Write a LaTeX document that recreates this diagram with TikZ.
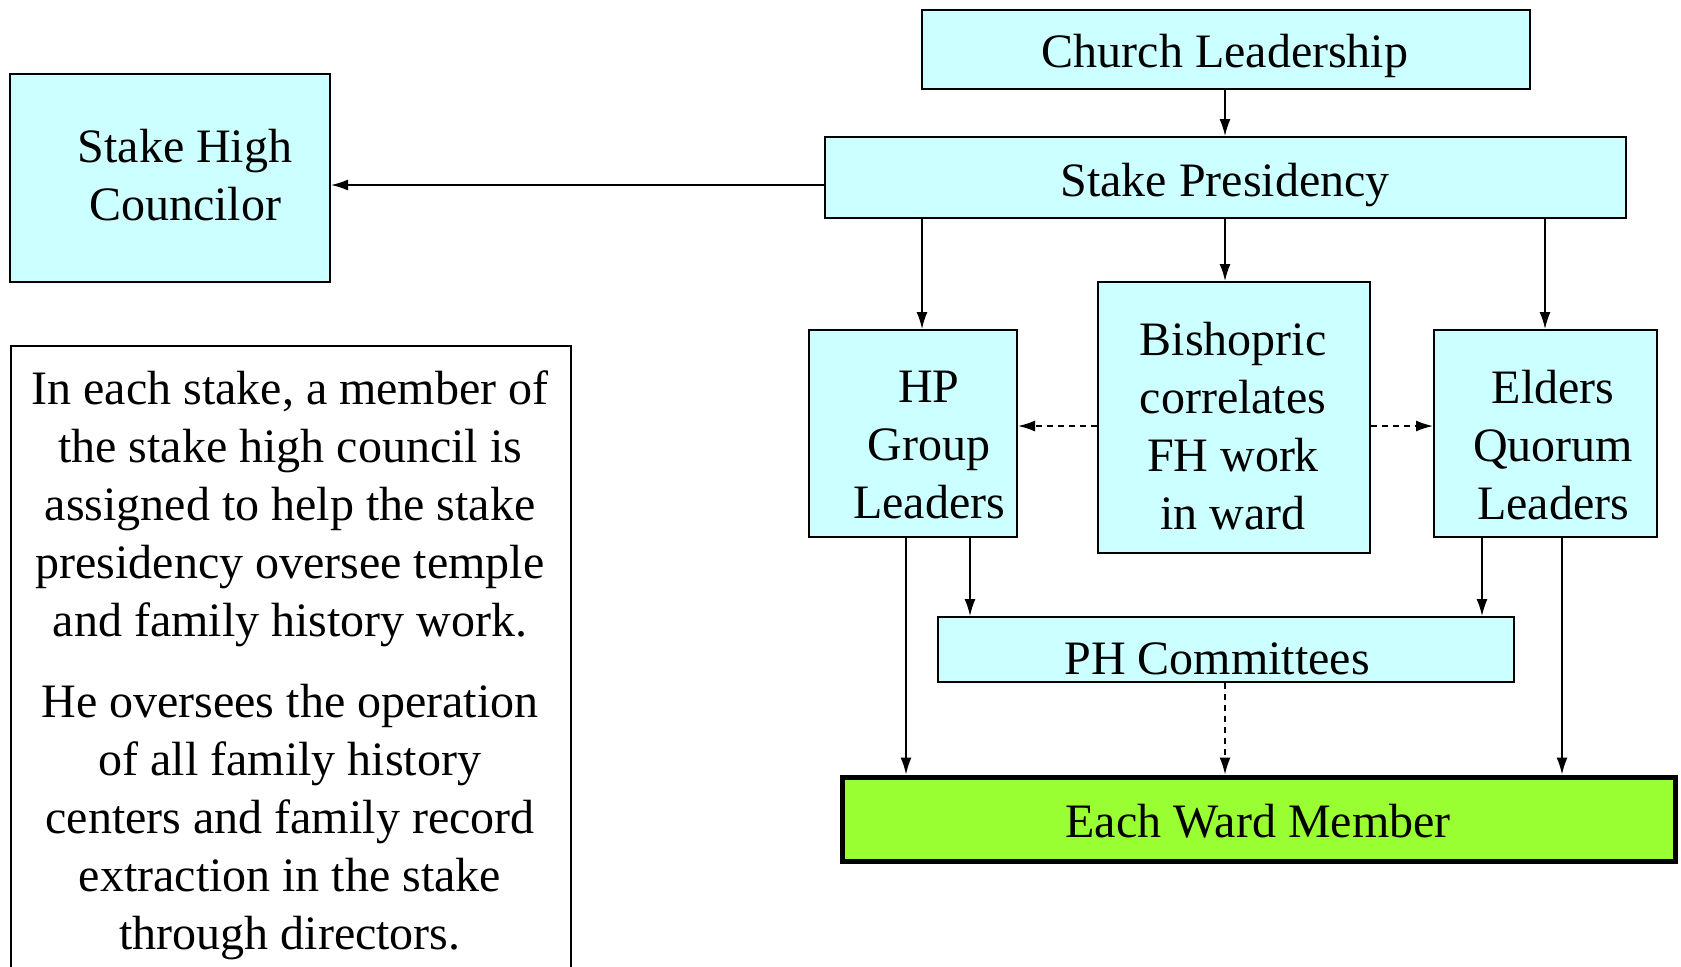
\documentclass[tikz,border=0pt]{standalone}
\usepackage{fontspec}
\setmainfont{Liberation Serif}
\usetikzlibrary{arrows.meta}
\definecolor{boxcyan}{HTML}{CCFFFF}
\definecolor{boxgreen}{HTML}{99FF33}
\begin{document}
\begin{tikzpicture}[x=0.5pt,y=-0.5pt,
  box/.style={draw=black,line width=1pt,fill=boxcyan,inner sep=0pt,minimum width=#1},
  txt/.style={align=center,inner sep=0pt,font=\fontsize{24}{29}\selectfont},
  arr/.style={line width=0.8pt,-{Latex[length=8.5pt,width=5.5pt]}},
  darr/.style={arr,dash pattern=on 3pt off 2.5pt}]
\useasboundingbox (0,0) rectangle (1681,966);
% boxes
\node[box=304pt,minimum height=39.5pt] (cl) at (1226,49.5) {};
\node[box=400.5pt,minimum height=40.5pt] (sp) at (1225.5,177.5) {};
\node[box=160pt,minimum height=104pt] (shc) at (170,178) {};
\node[box=104pt,minimum height=103.5pt] (hp) at (913,433.5) {};
\node[box=136pt,minimum height=135.5pt] (bis) at (1234,417.5) {};
\node[box=111.5pt,minimum height=103.5pt] (eq) at (1545.5,433.5) {};
\node[box=288pt,minimum height=32.5pt] (ph) at (1226,649.5) {};
\node[draw=black,line width=2.5pt,fill=boxgreen,inner sep=0pt,minimum width=416.5pt,minimum height=42pt] (ewm) at (1258.5,819) {};
\node[draw=black,line width=1pt,fill=white,inner sep=0pt,minimum width=280pt,minimum height=340pt,anchor=north west] (note) at (10,345) {};
% texts
\node[txt] (tcl) at (1225,56) {Church Leadership};
\node[txt] (tsp) at (1225,185) {Stake Presidency};
\node[txt] (tshc) at (185,175.5) {Stake High\\Councilor};
\node[txt] (thp) at (929,445.5) {HP\\Group\\Leaders};
\node[txt] (tbis) at (1233,426) {Bishopric\\correlates\\FH work\\in ward};
\node[txt] (teq) at (1553,445.5) {Elders\\Quorum\\Leaders};
\node[txt] (tph) at (1217,659) {PH Committees};
\node[txt] (tewm) at (1258,821) {Each Ward Member};
\node[txt] (p1) at (290,509) {In each stake, a member of\\the stake high council is\\assigned to help the stake\\presidency oversee temple\\and family history work.};
\node[txt] (p2) at (290,822) {He oversees the operation\\of all family history\\centers and family record\\extraction in the stake\\through directors.};
% connectors
\draw[arr] (cl.south -| 1225,0) -- (sp.north -| 1225,0);
\draw[arr] (sp.west |- 0,185) -- (shc.east |- 0,185);
\draw[arr] (sp.south -| 922,0) -- (hp.north -| 922,0);
\draw[arr] (sp.south -| 1225,0) -- (bis.north -| 1225,0);
\draw[arr] (sp.south -| 1545,0) -- (eq.north -| 1545,0);
\draw[darr] (bis.west |- 0,426) -- (hp.east |- 0,426);
\draw[darr] (bis.east |- 0,426) -- (eq.west |- 0,426);
\draw[arr] (hp.south -| 906,0) -- (ewm.north -| 906,0);
\draw[arr] (hp.south -| 970,0) -- (ph.north -| 970,0);
\draw[arr] (eq.south -| 1482,0) -- (ph.north -| 1482,0);
\draw[arr] (eq.south -| 1562,0) -- (ewm.north -| 1562,0);
\draw[darr] (ph.south -| 1225,0) -- (ewm.north -| 1225,0);
\end{tikzpicture}
\end{document}
